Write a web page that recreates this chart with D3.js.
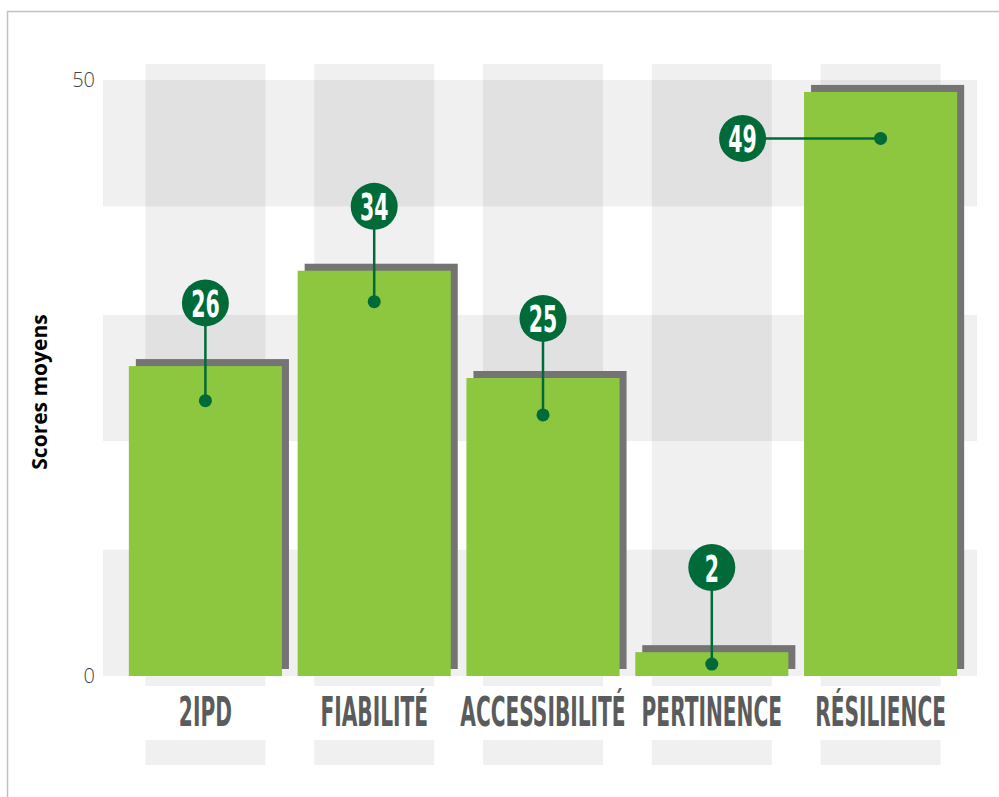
<!DOCTYPE html>
<html>
<head>
<meta charset="utf-8">
<title>Scores moyens</title>
<script src="https://cdn.jsdelivr.net/npm/d3@7"></script>
<style>
  body { margin: 0; background: #fff; }
  .tick-label { font-family: "Open Sans", sans-serif; font-weight: 300; font-size: 20px; fill: #444; }
  .cat-label { font-family: "Liberation Sans Narrow", "DejaVu Sans Condensed", sans-serif; font-weight: bold; font-size: 41px; fill: #5a5b5d; }
  .bubble-text { font-family: "Liberation Sans Narrow", "DejaVu Sans Condensed", sans-serif; font-weight: bold; font-size: 38px; fill: #fff; }
</style>
</head>
<body>
<script>
// categories and mean scores
var categories = ["2IPD", "FIABILITÉ", "ACCESSIBILITÉ", "PERTINENCE", "RÉSILIENCE"];
var scores = [26, 34, 25, 2, 49];
// where the callout dot and bubble sit (in score units)
var dotAt = [23.1, 31.4, 21.9, 1.0, 45.1];
var bubbleAt = [31.3, 39.4, 30.0, 9.1, 45.1];
var bubbleSide = ["top", "top", "top", "top", "left"];
var yTicks = [0, 50];
// decorative horizontal bands, in score units
var hBands = [[39.4, 50], [19.7, 30.3], [0, 10.6]];

var width = 999, height = 797;
var svg = d3.select("body").append("svg")
  .attr("width", width)
  .attr("height", height);

// frame
svg.append("path")
  .attr("d", "M7.5," + height + "V11.5H" + width)
  .attr("fill", "none")
  .attr("stroke", "#c2c2c2")
  .attr("stroke-width", 1.5);

var x = d3.scaleBand()
  .domain(categories)
  .range([121, 965])
  .paddingInner(0.093)
  .paddingOuter(0.0465);
var y = d3.scaleLinear()
  .domain([0, 50])
  .range([676, 80]);

var colW = 120;
var bg = svg.append("g");
// horizontal bands
bg.selectAll("rect.h")
  .data(hBands)
  .enter().append("rect")
  .attr("class", "h")
  .attr("x", 103)
  .attr("width", 977 - 103)
  .attr("y", function(d){ return y(d[1]); })
  .attr("height", function(d){ return y(d[0]) - y(d[1]); })
  .attr("fill", "#000")
  .attr("fill-opacity", 0.059);
// vertical columns
bg.selectAll("rect.v")
  .data(categories)
  .enter().append("rect")
  .attr("class", "v")
  .attr("x", function(d){ return x(d) + x.bandwidth() / 2 - colW / 2; })
  .attr("width", colW)
  .attr("y", 64)
  .attr("height", 686 - 64)
  .attr("fill", "#000")
  .attr("fill-opacity", 0.059);
// little boxes under labels
bg.selectAll("rect.b")
  .data(categories)
  .enter().append("rect")
  .attr("class", "b")
  .attr("x", function(d){ return x(d) + x.bandwidth() / 2 - colW / 2; })
  .attr("width", colW)
  .attr("y", 740)
  .attr("height", 25)
  .attr("fill", "#f0f0f0");

// bars with offset shadow
var bars = svg.append("g").selectAll("g")
  .data(categories)
  .enter().append("g");
bars.append("rect")
  .attr("x", function(d){ return x(d) + 7; })
  .attr("y", function(d, i){ return y(scores[i]) - 7; })
  .attr("width", x.bandwidth())
  .attr("height", function(d, i){ return y(0) - y(scores[i]); })
  .attr("fill", "#747474");
bars.append("rect")
  .attr("x", function(d){ return x(d); })
  .attr("y", function(d, i){ return y(scores[i]); })
  .attr("width", x.bandwidth())
  .attr("height", function(d, i){ return y(0) - y(scores[i]); })
  .attr("fill", "#8dc63f");

// y tick labels
svg.selectAll("text.tick-label")
  .data(yTicks)
  .enter().append("text")
  .attr("class", "tick-label")
  .attr("x", 95)
  .attr("y", function(d){ return y(d); })
  .attr("dy", "0.35em")
  .attr("text-anchor", "end")
  .text(function(d){ return d; });

svg.append("text")
  .attr("transform", "translate(47,392) rotate(-90)")
  .attr("text-anchor", "middle")
  .style("font-family", "'Open Sans', sans-serif")
  .style("font-weight", "bold")
  .style("font-size", "21px")
  .attr("fill", "#000")
  .text("Scores moyens");

// category labels
var squeeze = 0.547;
svg.selectAll("text.cat-label")
  .data(categories)
  .enter().append("text")
  .attr("class", "cat-label")
  .attr("transform", function(d){ return "translate(" + (x(d) + x.bandwidth() / 2) + ",726) scale(" + squeeze + ",1)"; })
  .attr("text-anchor", "middle")
  .text(function(d){ return d; });

// callouts
var green = "#006b38";
var call = svg.append("g").selectAll("g")
  .data(categories)
  .enter().append("g");
function cx(d){ return x(d) + x.bandwidth() / 2; }
function bx(d, i){ return bubbleSide[i] === "left" ? cx(d) - 138 : cx(d); }
call.append("line")
  .attr("x1", function(d){ return cx(d); })
  .attr("y1", function(d, i){ return y(dotAt[i]); })
  .attr("x2", bx)
  .attr("y2", function(d, i){ return y(bubbleAt[i]); })
  .attr("stroke", green)
  .attr("stroke-width", 2.5);
call.append("circle")
  .attr("cx", function(d){ return cx(d); })
  .attr("cy", function(d, i){ return y(dotAt[i]); })
  .attr("r", 6.5)
  .attr("fill", green);
call.append("circle")
  .attr("cx", bx)
  .attr("cy", function(d, i){ return y(bubbleAt[i]); })
  .attr("r", 23.5)
  .attr("fill", green);
call.append("text")
  .attr("class", "bubble-text")
  .attr("transform", function(d, i){ return "translate(" + bx(d, i) + "," + (y(bubbleAt[i]) + 14) + ") scale(0.6,1)"; })
  .attr("text-anchor", "middle")
  .text(function(d, i){ return scores[i]; });
</script>
</body>
</html>
